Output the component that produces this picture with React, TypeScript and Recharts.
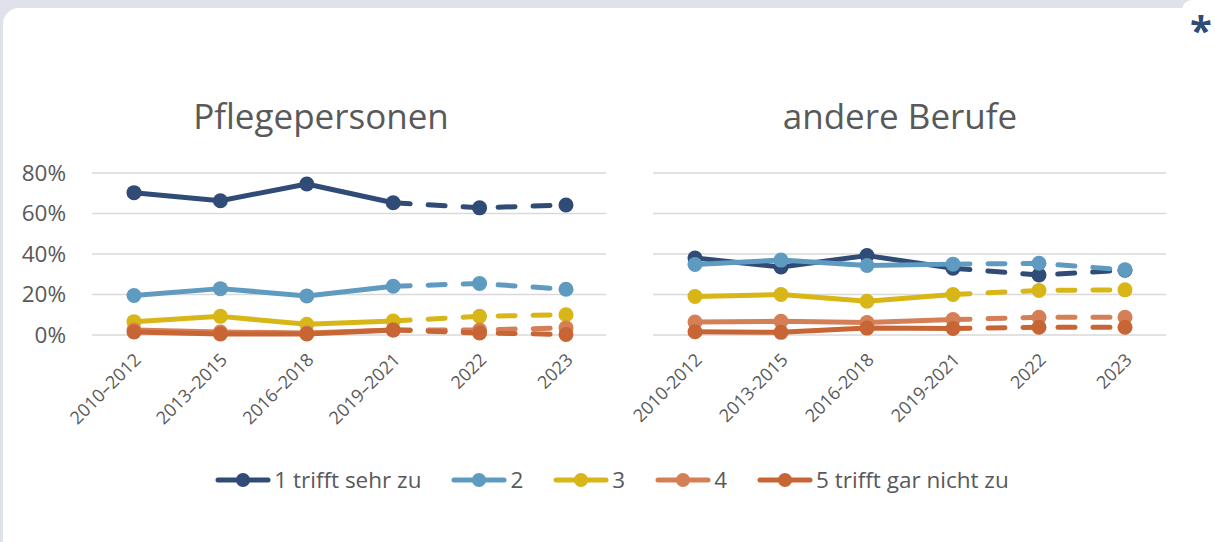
import React from 'react';
import { LineChart, Line, XAxis, YAxis, CartesianGrid } from 'recharts';

const categoriesLeft = ['2010–2012', '2013–2015', '2016–2018', '2019–2021', '2022', '2023'];
const categoriesRight = ['2010-2012', '2013-2015', '2016-2018', '2019-2021', '2022', '2023'];
const seriesNames = ['1 trifft sehr zu', '2', '3', '4', '5 trifft gar nicht zu'];
const seriesColors = ['#2F4B76', '#5F9BC0', '#D8B617', '#D57F57', '#C86534'];

const pflege1 = [70.3, 66.3, 74.6, 65.3, 62.8, 64.2];
const pflege2 = [19.5, 22.9, 19.3, 24.1, 25.4, 22.6];
const pflege3 = [6.6, 9.2, 5.3, 6.9, 9.2, 10.0];
const pflege4 = [2.5, 1.5, 1.0, 2.5, 2.5, 3.5];
const pflege5 = [1.5, 0.5, 0.5, 2.5, 1.0, 0.3];

const andere1 = [38.0, 33.6, 39.2, 33.0, 29.6, 32.0];
const andere2 = [34.8, 37.0, 34.3, 35.0, 35.4, 32.2];
const andere3 = [19.0, 20.0, 16.7, 20.0, 22.0, 22.3];
const andere4 = [6.4, 6.8, 6.2, 7.6, 8.8, 8.8];
const andere5 = [1.6, 1.3, 3.4, 3.2, 3.8, 3.8];

const yTicks = [0, 20, 40, 60, 80];

const FONT = '"Open Sans", "Noto Sans", sans-serif';
const TEXT = '#595959';

function buildRows(cats: string[], series: number[][]) {
  return cats.map((c, i) => {
    const row: Record<string, any> = { cat: c };
    series.forEach((s, k) => {
      row[`s${k}solid`] = i <= 3 ? s[i] : null;
      row[`s${k}dash`] = i >= 3 ? s[i] : null;
    });
    return row;
  });
}

const leftRows = buildRows(categoriesLeft, [pflege1, pflege2, pflege3, pflege4, pflege5]);
const rightRows = buildRows(categoriesRight, [andere1, andere2, andere3, andere4, andere5]);

const XTick = (props: any) => {
  const { x, y, payload } = props;
  const ax = x + 8;
  const ay = y + 18;
  return (
    <text
      x={ax}
      y={ay}
      transform={`rotate(-45 ${ax} ${ay})`}
      textAnchor="end"
      fill={TEXT}
      fontSize={18}
      fontFamily={FONT}
    >
      {payload.value}
    </text>
  );
};

const makeDot = (color: string, skipIndex: number | null) => (props: any) => {
  const { cx, cy, index, value } = props;
  if (value == null || cy == null || index === skipIndex) return <g key={`d${index}`} />;
  return <circle key={`d${index}`} cx={cx} cy={cy} r={7.5} fill={color} stroke="none" />;
};

function renderLines() {
  const out: any[] = [];
  seriesColors.forEach((color, k) => {
    out.push(
      <Line
        key={`s${k}solid`}
        dataKey={`s${k}solid`}
        stroke={color}
        strokeWidth={5}
        strokeLinecap="round"
        strokeLinejoin="round"
        dot={makeDot(color, null)}
        activeDot={false}
        isAnimationActive={false}
        connectNulls={false}
      />
    );
    out.push(
      <Line
        key={`s${k}dash`}
        dataKey={`s${k}dash`}
        stroke={color}
        strokeWidth={5}
        strokeLinecap="round"
        strokeDasharray="17 18"
        dot={makeDot(color, 3)}
        activeDot={false}
        isAnimationActive={false}
        connectNulls={false}
      />
    );
  });
  return out;
}

const Panel = ({ rows, showY, width, left, padL, padR }: any) => (
  <div style={{ position: 'absolute', left, top: 150 }}>
    <LineChart
      width={width}
      height={300}
      data={rows}
      margin={{ top: 23, right: 14, bottom: 5, left: showY ? 0 : 53 }}
    >
      <CartesianGrid horizontal vertical={false} stroke="#D9D9D9" strokeWidth={1.5} />
      <XAxis
        dataKey="cat"
        axisLine={false}
        tickLine={false}
        interval={0}
        height={110}
        padding={{ left: padL, right: padR }}
        tick={<XTick />}
      />
      <YAxis
        hide={!showY}
        width={92}
        domain={[0, 80]}
        ticks={yTicks}
        axisLine={false}
        tickLine={false}
        tickMargin={20}
        tickFormatter={(v: number) => `${v}%`}
        tick={{ fill: TEXT, fontSize: 22.5, fontFamily: FONT }}
      />
      {renderLines()}
    </LineChart>
  </div>
);

const LegendIcon = ({ color }: { color: string }) => (
  <svg width={58} height={20} style={{ display: 'block' }}>
    <line x1={4} y1={10} x2={54} y2={10} stroke={color} strokeWidth={5} strokeLinecap="round" />
    <circle cx={29} cy={10} r={7} fill={color} />
  </svg>
);

export default function App() {
  return (
    <div
      style={{
        position: 'absolute',
        left: 0,
        top: 0,
        width: 1215,
        height: 542,
        background: '#DFE2EA',
        overflow: 'hidden',
        fontFamily: FONT,
      }}
    >
      <div
        style={{
          position: 'absolute',
          left: 3,
          top: 8,
          width: 1230,
          height: 560,
          background: '#FFFFFF',
          borderTopLeftRadius: 16,
        }}
      />
      <div
        style={{
          position: 'absolute',
          left: 1182,
          top: 0,
          width: 40,
          height: 20,
          background: '#FFFFFF',
          borderTopLeftRadius: 10,
        }}
      />
      <div
        style={{
          position: 'absolute',
          left: 1190,
          top: 10,
          width: 22,
          textAlign: 'center',
          fontSize: 40,
          fontWeight: 700,
          color: '#2F4B76',
          lineHeight: '40px',
        }}
      >
        *
      </div>
      <div
        style={{
          position: 'absolute',
          left: 121,
          width: 400,
          top: 92,
          textAlign: 'center',
          fontSize: 35,
          color: TEXT,
          lineHeight: '48px',
        }}
      >
        Pflegepersonen
      </div>
      <div
        style={{
          position: 'absolute',
          left: 700,
          width: 400,
          top: 92,
          textAlign: 'center',
          fontSize: 35,
          color: TEXT,
          lineHeight: '48px',
        }}
      >
        andere Berufe
      </div>
      <Panel rows={leftRows} showY width={620} left={0} padL={42} padR={40} />
      <Panel rows={rightRows} showY={false} width={580} left={600} padL={42} padR={41} />
      <div
        style={{
          position: 'absolute',
          left: 4,
          width: 1215,
          top: 465,
          display: 'flex',
          justifyContent: 'center',
          alignItems: 'center',
        }}
      >
        {seriesNames.map((n, k) => (
          <div key={n} style={{ display: 'flex', alignItems: 'center', marginRight: k < 4 ? 29 : 0 }}>
            <LegendIcon color={seriesColors[k]} />
            <span style={{ fontSize: 22.5, color: TEXT, marginLeft: 2, lineHeight: '30px' }}>{n}</span>
          </div>
        ))}
      </div>
    </div>
  );
}
